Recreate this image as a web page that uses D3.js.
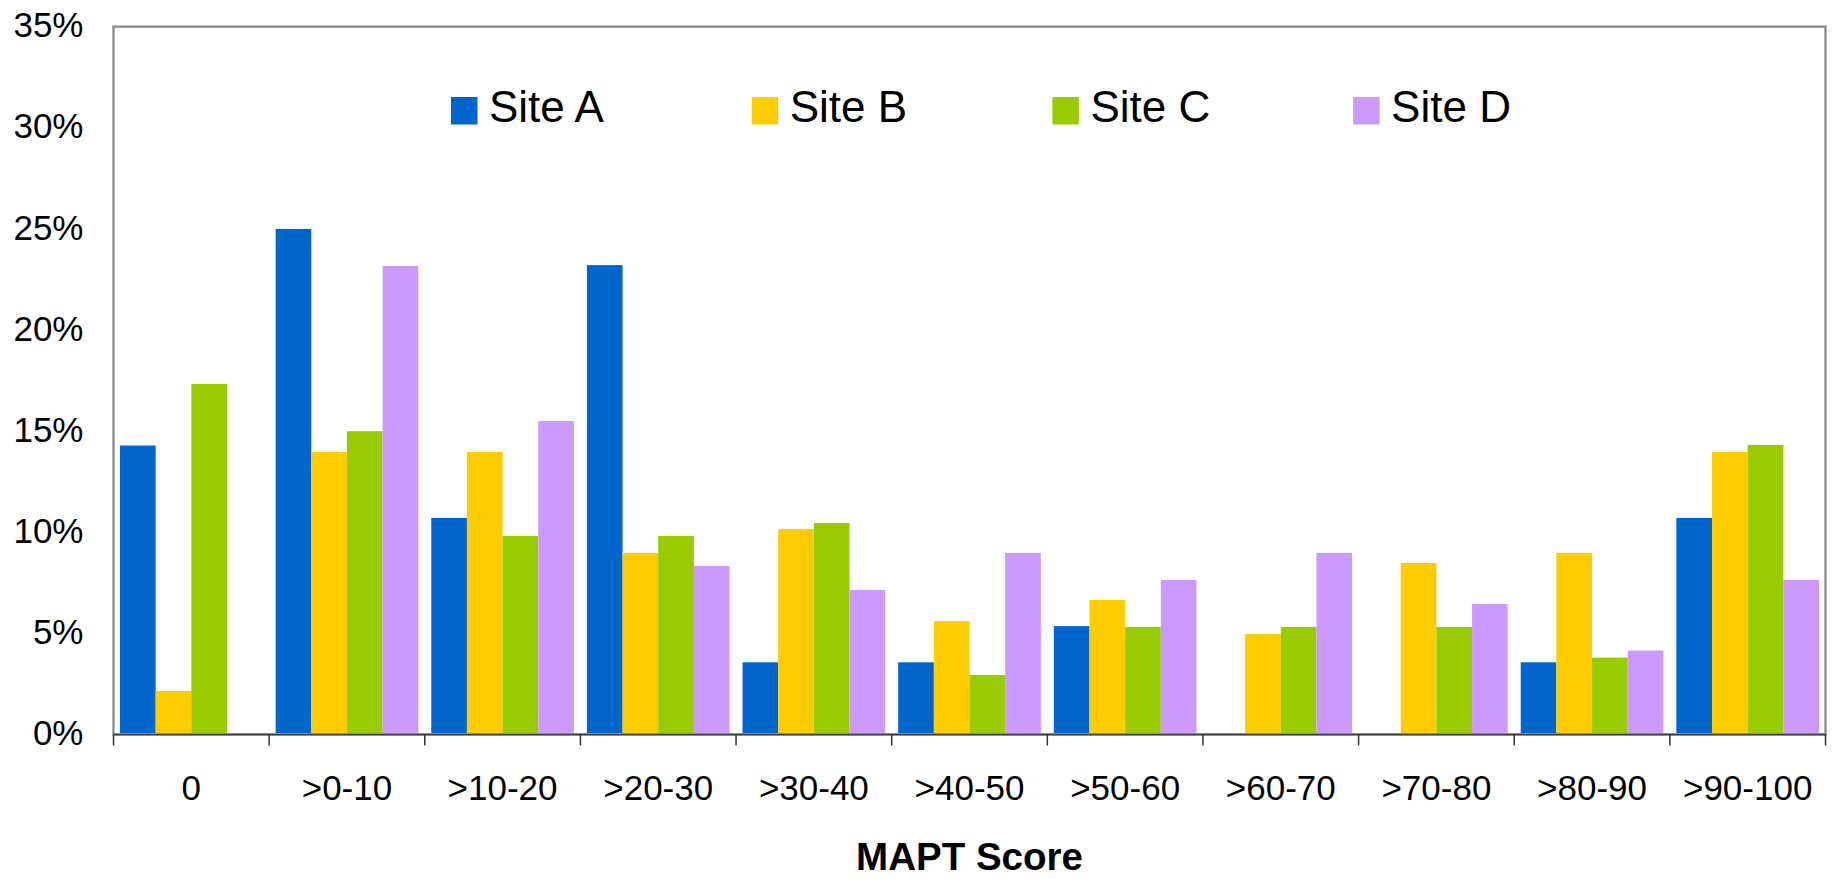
<!DOCTYPE html>
<html>
<head>
<meta charset="utf-8">
<script src="https://cdn.jsdelivr.net/npm/d3@7"></script>
<style>
  html, body { margin: 0; padding: 0; background: #ffffff; }
  svg { display: block; font-family: "Liberation Sans", Arial, sans-serif; }
</style>
</head>
<body>
<svg id="chart" width="1832" height="879"></svg>
<script>
// ---- data ----
const categories = ["0", ">0-10", ">10-20", ">20-30", ">30-40", ">40-50", ">50-60", ">60-70", ">70-80", ">80-90", ">90-100"];
const seriesNames = ["Site A", "Site B", "Site C", "Site D"];
const siteA = [14.29, 25.0, 10.71, 23.21, 3.57, 3.57, 5.36, 0, 0, 3.57, 10.71];
const siteB = [2.15, 13.97, 13.97, 8.98, 10.16, 5.61, 6.65, 4.97, 8.48, 8.98, 13.97];
const siteC = [17.33, 15.0, 9.82, 9.82, 10.46, 2.94, 5.32, 5.32, 5.32, 3.8, 14.32];
const siteD = [0, 23.17, 15.5, 8.33, 7.15, 8.98, 7.64, 8.98, 6.45, 4.15, 7.64];
const yTicks = [0, 5, 10, 15, 20, 25, 30, 35];
const xTitle = "MAPT Score";

const seriesValues = [siteA, siteB, siteC, siteD];
const colors = ["#0066CC", "#FFCC00", "#99CC00", "#CC99FF"];

(function () {
  // ---- layout ----
  const svg = d3.select("#chart");
  const pLeft = 113.5, pRight = 1825.5, pTop = 26.7, pBottom = 734.5;

  const x = d3.scaleBand().domain(categories).range([pLeft, pRight]).paddingInner(0).paddingOuter(0);
  const xs = d3.scaleBand().domain(seriesNames).range([0, x.bandwidth()]).paddingInner(0).paddingOuter(0.182);
  const y = d3.scaleLinear().domain([0, 35]).range([pBottom, pTop]);

  // bars
  const rows = [];
  categories.forEach((c, i) => {
    seriesNames.forEach((s, j) => {
      rows.push({ cat: c, series: s, value: seriesValues[j][i], color: colors[j] });
    });
  });
  svg.append("g").selectAll("rect").data(rows).join("rect")
    .attr("x", d => x(d.cat) + xs(d.series))
    .attr("width", xs.bandwidth())
    .attr("y", d => y(d.value))
    .attr("height", d => y(0) - y(d.value))
    .attr("fill", d => d.color);

  // plot border (top, right, left)
  svg.append("path")
    .attr("d", `M${pLeft},${pBottom} V${pTop} H${pRight} V${pBottom}`)
    .attr("fill", "none").attr("stroke", "#858585").attr("stroke-width", 2.2);

  // y axis
  const yAxis = d3.axisLeft(y).tickValues(yTicks).tickSize(0).tickPadding(30)
    .tickFormat(d => d + "%");
  const gy = svg.append("g").attr("transform", `translate(${pLeft},0)`).call(yAxis);
  gy.select(".domain").remove();
  gy.selectAll("text")
    .attr("font-size", "35px").attr("fill", "#000")
    .attr("font-family", "'Liberation Sans', Arial, sans-serif")
    .attr("dy", "0.29em");

  // x axis
  const boundaries = categories.map(c => x(c)).concat([pRight]);
  const gx = svg.append("g");
  gx.append("line").attr("x1", pLeft - 1).attr("x2", pRight + 1)
    .attr("y1", pBottom).attr("y2", pBottom)
    .attr("stroke", "#8a8a8a").attr("stroke-width", 3);
  gx.append("line").attr("x1", pLeft).attr("x2", pRight)
    .attr("y1", pBottom).attr("y2", pBottom)
    .attr("stroke", "#404040").attr("stroke-width", 1);
  gx.selectAll("line.tick").data(boundaries).join("line")
    .attr("class", "tick")
    .attr("x1", d => d).attr("x2", d => d)
    .attr("y1", pBottom).attr("y2", pBottom + 11)
    .attr("stroke", "#333").attr("stroke-width", 1.5);
  gx.selectAll("text").data(categories).join("text")
    .attr("x", d => x(d) + x.bandwidth() / 2)
    .attr("y", 800)
    .attr("text-anchor", "middle")
    .attr("font-size", "35px").attr("fill", "#000")
    .text(d => d);

  // x title
  svg.append("text")
    .attr("x", (pLeft + pRight) / 2).attr("y", 870)
    .attr("text-anchor", "middle")
    .attr("font-size", "38.5px").attr("font-weight", "bold").attr("fill", "#000")
    .text(xTitle);

  // legend
  const legendX0 = 451, legendStep = 300.7;
  const lg = svg.append("g").selectAll("g").data(seriesNames).join("g")
    .attr("transform", (d, i) => `translate(${legendX0 + i * legendStep},0)`);
  lg.append("rect").attr("x", 0).attr("y", 97).attr("width", 26.5).attr("height", 27.5)
    .attr("fill", (d, i) => colors[i]);
  lg.append("text").attr("x", 38).attr("y", 121.5)
    .attr("font-size", "44px").attr("fill", "#000")
    .text(d => d);
})();
</script>
</body>
</html>
